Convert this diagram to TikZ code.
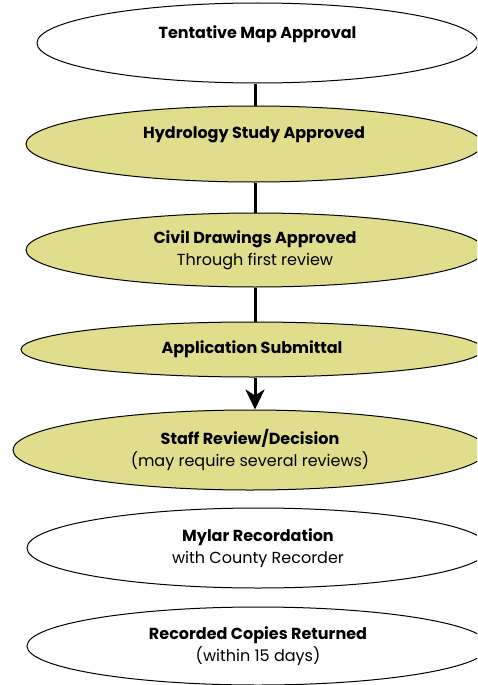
\documentclass[tikz,border=0pt]{standalone}
\usepackage{fontspec}
\setmainfont{Poppins}
\usetikzlibrary{shapes.geometric}
\usetikzlibrary{arrows.meta}
\definecolor{khaki}{RGB}{224,221,140}

\begin{document}
\begin{tikzpicture}[x=1pt,y=-1pt,
  oval/.style={ellipse,draw=black,line width=1pt,inner sep=0pt,align=center,font=\fontsize{16}{22}\selectfont},
  done/.style={oval,fill=khaki},
  todo/.style={oval,fill=white},
  link/.style={black,line width=3pt}]
\useasboundingbox (0,0) rectangle (477,685);
\clip (0,0) rectangle (477,685);

\node[todo,minimum width=441,minimum height=80] (TMA) at (257.5,43) {\textbf{Tentative Map Approval}\\~};
\node[done,minimum width=456,minimum height=76] (HSA) at (254,144) {\textbf{Hydrology Study Approved}\\~};
\node[done,minimum width=458,minimum height=74] (CDA) at (255,250) {\textbf{Civil Drawings Approved}\\Through first review};
\node[done,minimum width=462,minimum height=55] (AS) at (252,349.5) {\textbf{Application Submittal}};
\node[done,minimum width=474,minimum height=80] (SRD) at (250,450) {\textbf{Staff Review/Decision}\\(may require several reviews)};
\node[todo,minimum width=462,minimum height=80] (MR) at (258,548) {\textbf{Mylar Recordation}\\with County Recorder};
\node[todo,minimum width=462,minimum height=78] (RCR) at (258,646) {\textbf{Recorded Copies Returned}\\(within 15 days)};

\draw[link] (TMA.south -| 255,0) -- (HSA.north -| 255,0);
\draw[link] (HSA.south -| 255,0) -- (CDA.north -| 255,0);
\draw[link] (CDA.south -| 255,0) -- (AS.north -| 255,0);
\draw[link,-{Stealth[length=20pt,width=19pt,inset=6pt]}] (AS.south -| 255,0) -- (SRD.north -| 255,0);

\end{tikzpicture}
\end{document}
